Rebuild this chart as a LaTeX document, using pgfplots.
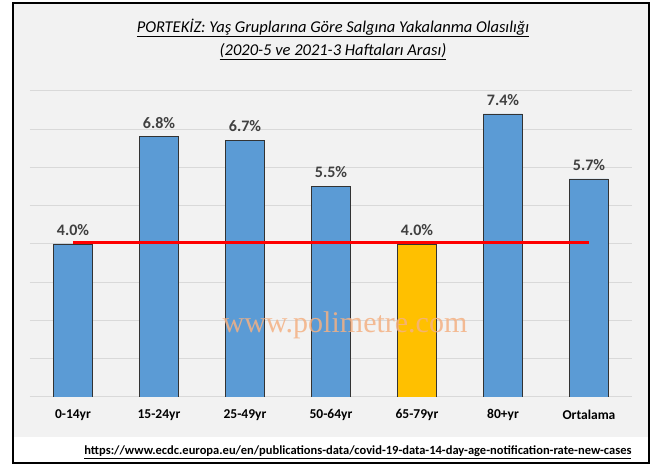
\documentclass[border=0pt]{standalone}
\usepackage{fontspec}
\setmainfont{Carlito}
\newfontfamily\wmfont{Liberation Serif}
\usepackage{pgfplots}
\pgfplotsset{compat=1.18}
\definecolor{barblue}{HTML}{5B9BD5}
\definecolor{baryellow}{HTML}{FFC000}
\definecolor{bggray}{HTML}{F2F2F2}
\definecolor{gridgray}{HTML}{D9D9D9}
\definecolor{labgray}{HTML}{404040}
\definecolor{wmorange}{HTML}{F4B183}

\begin{document}
\begin{tikzpicture}[x=1pt,y=1pt]
\useasboundingbox (0,0) rectangle (667,468);
\fill[white] (0,0) rectangle (667,468);
\filldraw[fill=bggray, draw=black, line width=1.5pt] (13,5) rectangle (649,465);
\fill[white] (14,6) rectangle (648,31);

\begin{axis}[
    at={(30pt,71pt)}, anchor=south west,
    scale only axis,
    width=602pt, height=306pt,
    ybar, bar width=39pt, bar shift=0pt,
    xmin=-0.5, xmax=6.5,
    ymin=0, ymax=8,
    xtick={0,1,...,6},
    xticklabels={0-14yr,15-24yr,25-49yr,50-64yr,65-79yr,80+yr,Ortalama},
    xticklabel style={font=\fontsize{13.5}{16}\selectfont\bfseries, yshift=-9pt},
    ytick={0,1,...,8}, yticklabels={},
    ymajorgrids, grid style={gridgray, line width=1pt},
    axis line style={draw=none},
    major tick length=0pt,
    /pgf/number format/assume math mode=true,
    nodes near coords style={font=\fontsize{16}{19}\selectfont\bfseries, text=labgray, yshift=5pt},
]
\addplot[fill=barblue, draw=black!80, line width=0.8pt,
    nodes near coords={\pgfmathprintnumber[fixed,fixed zerofill,precision=1]{\pgfplotspointmeta}\%}]
    coordinates {(0,4.0) (1,6.8) (2,6.7) (3,5.5) (5,7.4) (6,5.7)};
\addplot[fill=baryellow, draw=black!80, line width=0.8pt,
    nodes near coords={\pgfmathprintnumber[fixed,fixed zerofill,precision=1]{\pgfplotspointmeta}\%}]
    coordinates {(4,4.0)};
\addplot[sharp plot, red, line width=3pt] coordinates {(0,4.04) (6,4.04)};
\end{axis}

\node[font=\fontsize{16.5}{19}\selectfont\itshape] at (333,440)
    {\underline{PORTEKİZ: Yaş Gruplarına Göre Salgına Yakalanma Olasılığı}};
\node[font=\fontsize{16.5}{19}\selectfont\itshape] at (333,416)
    {\underline{(2020-5 ve 2021-3 Haftaları Arası)}};
\node[font=\fontsize{30}{34}\wmfont, text=wmorange, opacity=0.85] at (345,143) {www.polimetre.com};
\node[font=\fontsize{12.5}{15}\selectfont\bfseries, anchor=east] at (635,16)
    {\underline{https://www.ecdc.europa.eu/en/publications-data/covid-19-data-14-day-age-notification-rate-new-cases}};
\end{tikzpicture}
\end{document}
